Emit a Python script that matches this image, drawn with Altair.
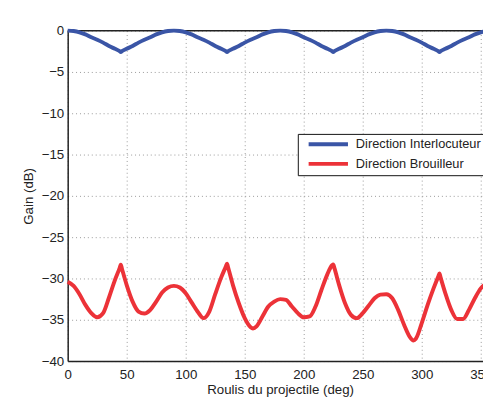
import altair as alt
import pandas as pd

# ---- data ----
angles_interlocuteur = [
    0, 5, 10, 15, 20, 25, 30, 35, 40, 44, 45, 46, 50, 55, 60, 65, 70, 75, 80, 85, 90,
    95, 100, 105, 110, 115, 120, 125, 130, 134, 135, 136, 140, 145, 150, 155, 160, 165, 170, 175, 180,
    185, 190, 195, 200, 205, 210, 215, 220, 224, 225, 226, 230, 235, 240, 245, 250, 255, 260, 265, 270,
    275, 280, 285, 290, 295, 300, 305, 310, 314, 315, 316, 320, 325, 330, 335, 340, 345, 350, 355, 360,
]
gain_interlocuteur = [
    0, -0.05, -0.2, -0.45, -0.8, -1.1, -1.45, -1.85, -2.2, -2.48, -2.58, -2.48, -2.2, -1.85, -1.45, -1.1, -0.8, -0.45, -0.2, -0.05, 0,
    -0.05, -0.2, -0.45, -0.8, -1.1, -1.45, -1.85, -2.2, -2.48, -2.58, -2.48, -2.2, -1.85, -1.45, -1.1, -0.8, -0.45, -0.2, -0.05, 0,
    -0.05, -0.2, -0.45, -0.8, -1.1, -1.45, -1.85, -2.2, -2.48, -2.58, -2.48, -2.2, -1.85, -1.45, -1.1, -0.8, -0.45, -0.2, -0.05, 0,
    -0.05, -0.2, -0.45, -0.8, -1.1, -1.45, -1.85, -2.2, -2.48, -2.58, -2.48, -2.2, -1.85, -1.45, -1.1, -0.8, -0.45, -0.2, -0.05, 0,
]

angles_brouilleur = [
    0, 5, 10, 15, 20, 25, 30, 35, 40, 44, 45, 46, 50, 55, 60, 65, 70, 75, 80, 85, 90,
    95, 100, 105, 110, 115, 120, 125, 130, 134, 135, 136, 140, 145, 150, 155, 157, 160, 165, 170, 175, 180,
    185, 190, 195, 200, 205, 210, 215, 220, 224, 225, 226, 230, 235, 240, 245, 250, 255, 260, 265, 270,
    275, 280, 285, 290, 293, 295, 300, 305, 310, 314, 315, 316, 320, 325, 330, 335, 340, 345, 350, 355, 360,
]
gain_brouilleur = [
    -30.4, -30.9, -31.9, -33.2, -34.2, -34.7, -34.2, -32.3, -30.2, -28.75, -28.35, -28.85, -30.8, -32.8, -34.0, -34.25, -33.8, -32.8, -31.7, -31.1, -30.9,
    -31.1, -31.8, -32.9, -34.0, -34.8, -34.0, -31.9, -29.9, -28.55, -28.2, -28.7, -30.8, -33.0, -34.8, -35.9, -36.05, -35.8, -34.6, -33.4, -32.8, -32.5,
    -32.6, -33.4, -34.2, -34.7, -34.6, -33.4, -31.4, -29.5, -28.4, -28.3, -28.75, -30.8, -33.0, -34.4, -34.8, -34.2, -33.3, -32.4, -31.95, -31.9,
    -32.4, -33.8, -35.6, -37.1, -37.5, -37.3, -35.4, -33.2, -31.2, -29.75, -29.4, -29.9, -31.8, -33.8, -34.9, -34.9, -33.8, -32.4, -31.2, -30.6, -30.4,
]

series_names = ["Direction Interlocuteur", "Direction Brouilleur"]
series_colors = ["#3a55a6", "#ec3238"]

x_ticks = [0, 50, 100, 150, 200, 250, 300, 350]
y_ticks = [-40, -35, -30, -25, -20, -15, -10, -5, 0]

df = pd.DataFrame({
    "angle": angles_interlocuteur + angles_brouilleur,
    "gain": gain_interlocuteur + gain_brouilleur,
    "series": [series_names[0]] * len(angles_interlocuteur)
    + [series_names[1]] * len(angles_brouilleur),
})

FONT = "Liberation Sans"
FS = 13.5
x_scale = alt.Scale(domain=[0, 351.9], nice=False, zero=False)
y_scale = alt.Scale(domain=[-40, 0], nice=False, zero=False)

border = alt.Chart(pd.DataFrame({"k": [0]})).mark_rule(
    color="#222222", strokeWidth=1.5
).encode(y=alt.datum(0, scale=y_scale))

lines = alt.Chart(df).mark_line(strokeWidth=4, interpolate="monotone").encode(
    x=alt.X(
        "angle:Q",
        scale=x_scale,
        axis=alt.Axis(
            values=x_ticks,
            title="Roulis du projectile (deg)",
            labelPadding=7,
            labelFlush=False,
            titleX=216,
            titleY=33,
            titleBaseline="alphabetic",
            titleAlign="center",
        ),
    ),
    y=alt.Y(
        "gain:Q",
        scale=y_scale,
        axis=alt.Axis(
            values=y_ticks,
            title="Gain (dB)",
            labelPadding=4,
            titleX=-40,
            titleY=168,
            titleBaseline="middle",
            titleAlign="center",
        ),
    ),
    color=alt.Color(
        "series:N",
        scale=alt.Scale(domain=series_names, range=series_colors),
        sort=series_names,
        legend=alt.Legend(
            title=None,
            orient="none",
            legendX=234,
            legendY=105,
            symbolType="stroke",
            symbolSize=1600,
            symbolStrokeWidth=4,
            clipHeight=13,
            rowPadding=6,
            padding=4,
            symbolOffset=5,
            labelOffset=6,
            labelFont=FONT,
            labelFontSize=13,
            labelColor="#222222",
            labelBaseline="middle",
            strokeColor="#111111",
            fillColor="white",
        ),
    ),
    detail="series:N",
)

chart = alt.layer(border, lines).properties(
    width=422.3,
    height=336,
    autosize=alt.AutoSizeParams(type="none"),
    padding={"left": 60.7, "top": 19.7, "right": 0, "bottom": 39.3},
).configure_view(stroke=None).configure_axis(
    domainColor="#222222",
    domainWidth=1.5,
    grid=True,
    gridColor="#999999",
    gridDash=[1, 3],
    gridWidth=1,
    ticks=False,
    tickSize=0,
    labelFont=FONT,
    labelFontSize=FS,
    labelColor="#222222",
    titleFont=FONT,
    titleFontSize=FS,
    titleFontWeight="normal",
    titleColor="#222222",
)

chart.save("out.html", embed_options={"renderer": "svg", "actions": False})
